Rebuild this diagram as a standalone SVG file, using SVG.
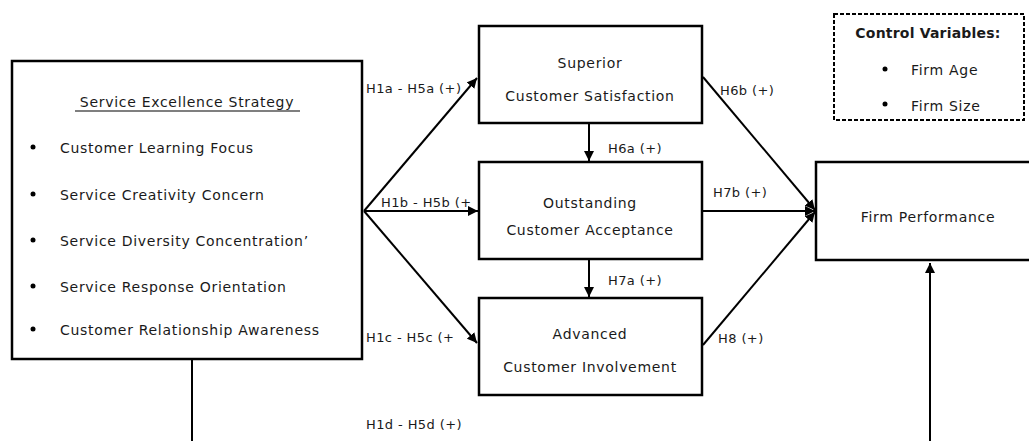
<svg xmlns="http://www.w3.org/2000/svg" width="1029" height="441" viewBox="0 0 1029 441">
<style>
.box{fill:#fff;stroke:#000;stroke-width:2.5}
.dash{fill:#fff;stroke:#000;stroke-width:2;stroke-dasharray:4 2}
.ln{fill:none;stroke:#000;stroke-width:2}
text{font-family:"DejaVu Sans","Liberation Sans",sans-serif;font-size:14px;letter-spacing:0.7px;fill:#1a1a1a}
.c{text-anchor:middle}
.lbl{font-size:13px;letter-spacing:0.4px}
.b{font-weight:bold;letter-spacing:0.2px}
</style>
<defs>
<marker id="ah" viewBox="0 0 10 10" refX="10" refY="5" markerWidth="5" markerHeight="5" orient="auto" markerUnits="strokeWidth">
<path d="M0,0 L10,5 L0,10 z" fill="#000"/>
</marker>
</defs>
<rect width="1029" height="441" fill="#fff"/>
<g id="connectors">
<line class="ln" x1="364" y1="211" x2="477" y2="78" marker-end="url(#ah)"/>
<line class="ln" x1="364" y1="211" x2="478" y2="211" marker-end="url(#ah)"/>
<line class="ln" x1="364" y1="211" x2="477" y2="343" marker-end="url(#ah)"/>
<line class="ln" x1="589" y1="124" x2="589" y2="161" marker-end="url(#ah)"/>
<line class="ln" x1="589" y1="260" x2="589" y2="297" marker-end="url(#ah)"/>
<line class="ln" x1="703" y1="77" x2="815" y2="210" marker-end="url(#ah)"/>
<line class="ln" x1="703" y1="211" x2="815" y2="211" marker-end="url(#ah)"/>
<line class="ln" x1="703" y1="345" x2="815" y2="212" marker-end="url(#ah)"/>
<line class="ln" x1="192" y1="360" x2="192" y2="441"/>
<line class="ln" x1="930" y1="441" x2="930" y2="263" marker-end="url(#ah)"/>
<text class="lbl" x="366" y="93">H1a - H5a (+)</text>
<text class="lbl" x="381" y="207">H1b - H5b (+</text>
<text class="lbl" x="366" y="342">H1c - H5c (+</text>
<text class="lbl" x="366" y="429">H1d - H5d (+)</text>
<text class="lbl" x="608" y="153">H6a (+)</text>
<text class="lbl" x="608" y="285">H7a (+)</text>
<text class="lbl" x="720" y="95">H6b (+)</text>
<text class="lbl" x="713" y="197">H7b (+)</text>
<text class="lbl" x="718" y="343">H8 (+)</text>
</g>
<g id="ses">
<rect class="box" x="12" y="61" width="350" height="298"/>
<text class="c" x="187" y="107">Service Excellence Strategy</text>
<line x1="75" y1="111" x2="300" y2="111" stroke="#000" stroke-width="1.2"/>
<circle cx="33" cy="147" r="2.5" fill="#000"/>
<text x="60" y="153">Customer Learning Focus</text>
<circle cx="33" cy="194" r="2.5" fill="#000"/>
<text x="60" y="200">Service Creativity Concern</text>
<circle cx="33" cy="240" r="2.5" fill="#000"/>
<text x="60" y="246">Service Diversity Concentration’</text>
<circle cx="33" cy="286" r="2.5" fill="#000"/>
<text x="60" y="292">Service Response  Orientation</text>
<circle cx="33" cy="329" r="2.5" fill="#000"/>
<text x="60" y="335">Customer Relationship Awareness</text>
</g>
<g id="superior">
<rect class="box" x="479" y="26" width="223" height="97"/>
<text class="c" x="590" y="68">Superior</text>
<text class="c" x="590" y="101">Customer Satisfaction</text>
</g>
<g id="outstanding">
<rect class="box" x="479" y="162" width="223" height="97"/>
<text class="c" x="590" y="208">Outstanding</text>
<text class="c" x="590" y="235">Customer  Acceptance</text>
</g>
<g id="advanced">
<rect class="box" x="479" y="298" width="223" height="97"/>
<text class="c" x="590" y="339">Advanced</text>
<text class="c" x="590" y="372">Customer Involvement</text>
</g>
<g id="firm">
<rect class="box" x="816" y="162" width="215" height="98"/>
<text class="c" x="928" y="222">Firm Performance</text>
</g>
<g id="control">
<rect class="dash" x="834" y="14" width="190" height="106"/>
<text class="c b" x="928" y="38">Control Variables:</text>
<circle cx="885" cy="69" r="2.5" fill="#000"/>
<text x="911" y="75">Firm Age</text>
<circle cx="885" cy="104" r="2.5" fill="#000"/>
<text x="911" y="111">Firm Size</text>
</g>
</svg>
